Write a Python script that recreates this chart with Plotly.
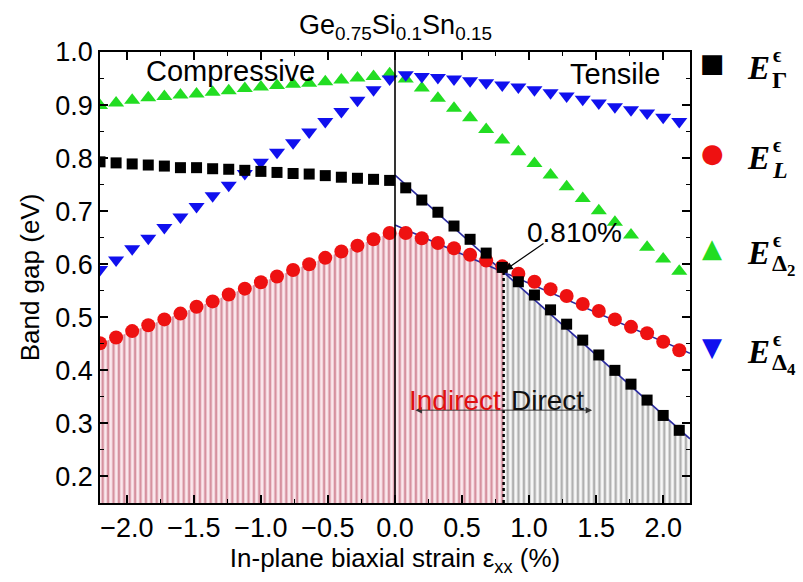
import numpy as np
import plotly.graph_objects as go

# ---------------- data ----------------
strain = [-2.20, -2.08, -1.96, -1.84, -1.72, -1.60, -1.48, -1.36, -1.24, -1.12,
          -1.00, -0.88, -0.76, -0.64, -0.52, -0.40, -0.28, -0.16, -0.04,
          0.08, 0.20, 0.32, 0.44, 0.56, 0.68, 0.80, 0.92, 1.04, 1.16, 1.28,
          1.40, 1.52, 1.64, 1.76, 1.88, 2.00, 2.12]

E_gamma = [0.793, 0.791, 0.789, 0.787, 0.785, 0.782, 0.782, 0.780, 0.779, 0.777,
           0.775, 0.773, 0.771, 0.770, 0.767, 0.764, 0.762, 0.760, 0.758,
           0.744, 0.721, 0.698, 0.672, 0.647, 0.621, 0.594, 0.567, 0.542, 0.514,
           0.487, 0.457, 0.429, 0.400, 0.374, 0.344, 0.315, 0.287]

E_L = [0.451, 0.462, 0.474, 0.485, 0.496, 0.507, 0.520, 0.530, 0.543, 0.554,
       0.566, 0.577, 0.589, 0.600, 0.612, 0.624, 0.635, 0.647, 0.659,
       0.659, 0.649, 0.640, 0.630, 0.618, 0.607, 0.596, 0.582, 0.567, 0.553,
       0.540, 0.525, 0.512, 0.496, 0.482, 0.470, 0.454, 0.438]

E_D2 = [0.899, 0.904, 0.909, 0.914, 0.916, 0.919, 0.921, 0.924, 0.927, 0.931,
        0.934, 0.937, 0.939, 0.941, 0.944, 0.947, 0.951, 0.954, 0.959,
        0.949, 0.932, 0.913, 0.894, 0.876, 0.854, 0.834, 0.812, 0.790, 0.768,
        0.746, 0.724, 0.701, 0.679, 0.655, 0.632, 0.610, 0.587]

E_D4 = [0.590, 0.608, 0.629, 0.649, 0.669, 0.689, 0.709, 0.729, 0.749, 0.771,
        0.792, 0.811, 0.829, 0.849, 0.869, 0.888, 0.909, 0.929, 0.949,
        0.957, 0.954, 0.952, 0.949, 0.946, 0.942, 0.938, 0.934, 0.929, 0.923,
        0.917, 0.911, 0.904, 0.897, 0.891, 0.885, 0.877, 0.869]

# linear fits on the tensile side
fit_x = [0.0, 2.2]
gamma_fit = [0.768, 0.271]
L_fit = [0.674, 0.432]

crossover = 0.81          # indirect -> direct transition (%)
strain_zero = 0.0
x_range = [-2.2, 2.2]
y_range = [0.15, 1.0]

FONT = "Liberation Sans, Arial, sans-serif"
SERIF = "Liberation Serif, Times New Roman, serif"

cross_y = float(np.interp(crossover, fit_x, L_fit))

fig = go.Figure()

# hatched area under the lowest gap: indirect (L) part
n_ind = sum(1 for s in strain if s < crossover)
ind_x = strain[:n_ind] + [crossover]
ind_y = E_L[:n_ind] + [cross_y]
fig.add_trace(go.Scatter(
    x=ind_x, y=ind_y, mode="lines", fill="tozeroy",
    line=dict(width=0, color="rgba(0,0,0,0)"),
    fillcolor="rgba(0,0,0,0)",
    fillpattern=dict(shape="|", size=5.4, solidity=0.45,
                     fgcolor="#b23a52", bgcolor="#fbe8ed"),
    hoverinfo="skip", showlegend=False))

# direct (Gamma) part
dir_x = [crossover, fit_x[1]]
dir_y = [float(np.interp(v, fit_x, gamma_fit)) for v in dir_x]
fig.add_trace(go.Scatter(
    x=dir_x, y=dir_y, mode="lines", fill="tozeroy",
    line=dict(width=0, color="rgba(0,0,0,0)"),
    fillcolor="rgba(0,0,0,0)",
    fillpattern=dict(shape="|", size=5.4, solidity=0.45,
                     fgcolor="#6a6a6a", bgcolor="#f7f7f7"),
    hoverinfo="skip", showlegend=False))

# fit lines
fig.add_trace(go.Scatter(x=fit_x, y=gamma_fit, mode="lines",
                         line=dict(color="#2a2aa0", width=1.6),
                         hoverinfo="skip", showlegend=False))
fig.add_trace(go.Scatter(x=fit_x, y=L_fit, mode="lines",
                         line=dict(color="#2a2aa0", width=1.6),
                         hoverinfo="skip", showlegend=False))

# markers
fig.add_trace(go.Scatter(x=strain, y=E_D2, mode="markers", showlegend=False,
                         marker=dict(symbol="triangle-up", size=14, color="#22dd22")))
fig.add_trace(go.Scatter(x=strain, y=E_D4, mode="markers", showlegend=False,
                         marker=dict(symbol="triangle-down", size=14, color="#1010ee")))
fig.add_trace(go.Scatter(x=strain, y=E_L, mode="markers", showlegend=False,
                         marker=dict(symbol="circle", size=14, color="#ee1111")))
fig.add_trace(go.Scatter(x=strain, y=E_gamma, mode="markers", showlegend=False,
                         marker=dict(symbol="square", size=11, color="#000000")))

# vertical line at zero strain and dotted line at crossover
fig.add_shape(type="line", xref="x", yref="y", x0=strain_zero, x1=strain_zero,
              y0=y_range[0], y1=y_range[1], line=dict(color="black", width=1.6))
fig.add_shape(type="line", xref="x", yref="y", x0=crossover, x1=crossover,
              y0=y_range[0], y1=cross_y, line=dict(color="black", width=2.5, dash="dot"))

ann = []
# region labels
ann.append(dict(x=-1.23, y=0.964, xref="x", yref="y", text="Compressive",
                showarrow=False, font=dict(family=FONT, size=29, color="black")))
ann.append(dict(x=1.64, y=0.959, xref="x", yref="y", text="Tensile",
                showarrow=False, font=dict(family=FONT, size=29, color="black")))
# crossover label and arrow
ann.append(dict(x=1.34, y=0.660, xref="x", yref="y", text="0.810%",
                showarrow=False, font=dict(family=FONT, size=28, color="black")))
ann.append(dict(x=crossover + 0.01, y=cross_y + 0.004, xref="x", yref="y",
                ax=1.13, ay=0.643, axref="x", ayref="y", text=" ",
                showarrow=True, arrowhead=2, arrowsize=1.3, arrowwidth=1.2,
                arrowcolor="black"))
# indirect / direct double arrow
ann.append(dict(x=1.47, y=0.325, xref="x", yref="y", ax=0.13, ay=0.325,
                axref="x", ayref="y", text=" ", showarrow=True,
                arrowhead=2, startarrowhead=2, arrowside="end+start",
                arrowsize=1.3, startarrowsize=1.3, arrowwidth=1, arrowcolor="#333333"))
ann.append(dict(x=0.45, y=0.344, xref="x", yref="y", text="Indirect",
                showarrow=False, font=dict(family=FONT, size=28, color="#e01010")))
ann.append(dict(x=1.14, y=0.344, xref="x", yref="y", text="Direct",
                showarrow=False, font=dict(family=FONT, size=28, color="#111111")))
# composition title
ann.append(dict(x=0.5, y=1.0, xref="paper", yref="paper", yanchor="bottom",
                yshift=6, showarrow=False,
                text="Ge<sub>0.75</sub>Si<sub>0.1</sub>Sn<sub>0.15</sub>",
                font=dict(family=FONT, size=27, color="black")))

# legend built from text glyphs (pixel-positioned relative to plot right edge)
PLOT_RIGHT = 690
PLOT_TOP = 52
legend_items = [
    ("■", "#000000", 63, "Γ", "normal"),
    ("●", "#ee1111", 153, "L", "italic"),
    ("▲", "#22dd22", 248, "Δ<sub>2</sub>", "normal"),
    ("▼", "#1010ee", 347, "Δ<sub>4</sub>", "normal"),
]
for glyph, col, py, sub, sty in legend_items:
    ann.append(dict(x=1.0, y=1.0, xref="paper", yref="paper", xanchor="center",
                    yanchor="middle", xshift=712 - PLOT_RIGHT, yshift=-(py - PLOT_TOP),
                    text=glyph, showarrow=False,
                    font=dict(family="DejaVu Sans", size=26, color=col)))
    ey = py + 5
    ann.append(dict(x=1.0, y=1.0, xref="paper", yref="paper", xanchor="left",
                    yanchor="middle", xshift=745 - PLOT_RIGHT, yshift=-(ey - PLOT_TOP),
                    text="<b><i>E</i></b>", showarrow=False,
                    font=dict(family=SERIF, size=33, color="black")))
    ann.append(dict(x=1.0, y=1.0, xref="paper", yref="paper", xanchor="left",
                    yanchor="middle", xshift=771 - PLOT_RIGHT, yshift=-(ey - 13 - PLOT_TOP),
                    text="<b>ϵ</b>", showarrow=False,
                    font=dict(family=SERIF, size=20, color="black")))
    subtxt = "<b><i>%s</i></b>" % sub if sty == "italic" else "<b>%s</b>" % sub
    ann.append(dict(x=1.0, y=1.0, xref="paper", yref="paper", xanchor="left",
                    yanchor="middle", xshift=770 - PLOT_RIGHT, yshift=-(ey + 12 - PLOT_TOP),
                    text=subtxt, showarrow=False,
                    font=dict(family=SERIF, size=24, color="black")))

axis_common = dict(showline=True, linecolor="black", linewidth=1.6, mirror="ticks",
                   ticks="inside", ticklen=8, tickwidth=1.5, tickcolor="black",
                   showgrid=False, zeroline=False,
                   tickfont=dict(family=FONT, size=27, color="black"))

fig.update_layout(
    width=803, height=582,
    margin=dict(l=100, r=113, t=52, b=79),
    paper_bgcolor="white", plot_bgcolor="white",
    annotations=ann,
    xaxis=dict(range=x_range, tick0=0, dtick=0.5, tickformat=".1f",
               minor=dict(dtick=0.25, ticks="inside", ticklen=4, tickwidth=1.2,
                          tickcolor="black"),
               title=dict(text="In-plane biaxial strain ε<sub>xx</sub> (%)",
                          font=dict(family=FONT, size=26, color="black"), standoff=6),
               **axis_common),
    yaxis=dict(range=y_range, tick0=0, dtick=0.1, tickformat=".1f",
               minor=dict(dtick=0.05, ticks="inside", ticklen=4, tickwidth=1.2,
                          tickcolor="black"),
               title=dict(text="Band gap (eV)",
                          font=dict(family=FONT, size=26, color="black"), standoff=8),
               **axis_common),
    showlegend=False,
)

fig.write_html("out.html")
